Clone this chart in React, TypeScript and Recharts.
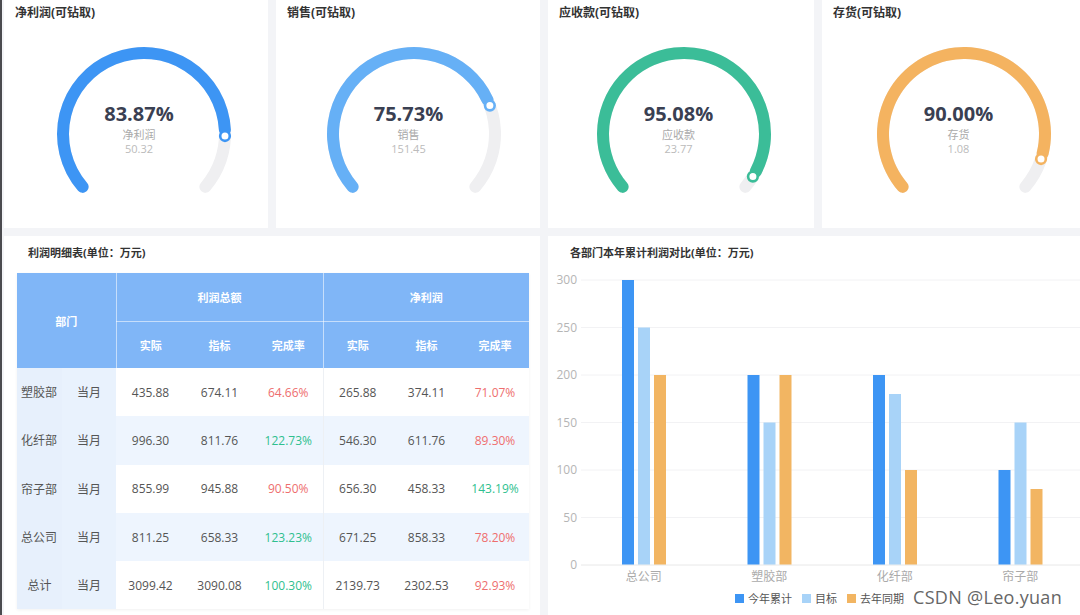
import React from 'react';
import { PieChart, Pie, Cell, BarChart, Bar, XAxis, YAxis, CartesianGrid, Legend } from 'recharts';

// ---------- data ----------
const gaugeTitles = ['净利润(可钻取)', '销售(可钻取)', '应收款(可钻取)', '存货(可钻取)'];
const gaugeNames = ['净利润', '销售', '应收款', '存货'];
const gaugeRates = [83.87, 75.73, 95.08, 90.0];
const gaugeAmounts = ['50.32', '151.45', '23.77', '1.08'];
const gaugeColors = ['#3d95f4', '#66b0f6', '#3bbd98', '#f4b360'];

const deptNames = ['塑胶部', '化纤部', '帘子部', '总公司', '总计'];
const periodLabel = '当月';
const profitActual = ['435.88', '996.30', '855.99', '811.25', '3099.42'];
const profitTarget = ['674.11', '811.76', '945.88', '658.33', '3090.08'];
const profitRate = ['64.66%', '122.73%', '90.50%', '123.23%', '100.30%'];
const netActual = ['265.88', '546.30', '656.30', '671.25', '2139.73'];
const netTarget = ['374.11', '611.76', '458.33', '858.33', '2302.53'];
const netRate = ['71.07%', '89.30%', '143.19%', '78.20%', '92.93%'];

const barCategories = ['总公司', '塑胶部', '化纤部', '帘子部'];
const barThisYear = [300, 200, 200, 100];
const barTarget = [250, 150, 180, 150];
const barLastYear = [200, 200, 100, 80];
const yTicks = [0, 50, 100, 150, 200, 250, 300];
const seriesKeys = ['thisYear', 'target', 'lastYear'];
const seriesNames = ['今年累计', '目标', '去年同期'];
const seriesColors = ['#3d95f4', '#a8d3f8', '#f2b562'];

const FONT = '"Open Sans", "Noto Sans CJK SC", sans-serif';
const RAD = Math.PI / 180;

const barData = barCategories.map((name, i) => ({
  name,
  thisYear: barThisYear[i],
  target: barTarget[i],
  lastYear: barLastYear[i],
}));

const renderDot = (color: string) => (props: any) => {
  if (props.index !== 0) return null;
  const { cx, cy, innerRadius, outerRadius, endAngle } = props;
  const r = (innerRadius + outerRadius) / 2;
  const x = cx + r * Math.cos(-endAngle * RAD);
  const y = cy + r * Math.sin(-endAngle * RAD);
  return <circle cx={x} cy={y} r={4.8} fill="#fff" stroke={color} strokeWidth={2.6} />;
};

const gaugeCenters = [139, 408.5, 678.5, 958.5];
const panelRects = [
  { left: 4, width: 264 },
  { left: 276, width: 264 },
  { left: 548, width: 266 },
  { left: 822, width: 258 },
];

function Gauge({ i }: { i: number }) {
  const cx = gaugeCenters[i];
  const cy = 129;
  const color = gaugeColors[i];
  const data = [
    { name: gaugeNames[i], value: gaugeRates[i] },
    { name: 'rest', value: 100 - gaugeRates[i] },
  ];
  const p = panelRects[i];
  return (
    <>
      <div style={{ position: 'absolute', left: p.left, top: 0, width: p.width, height: 228, background: '#fff' }} />
      <div style={{ position: 'absolute', left: p.left + 11, top: 3, fontSize: 12, fontWeight: 700, color: '#333', fontFamily: FONT }}>
        {gaugeTitles[i]}
      </div>
      <div style={{ position: 'absolute', left: cx - 100, top: cy - 100 }}>
        <PieChart width={200} height={200}>
          <Pie
            data={[{ value: 100 }]}
            dataKey="value"
            cx={100}
            cy={100}
            innerRadius={75}
            outerRadius={87}
            startAngle={225}
            endAngle={-45}
            cornerRadius={6}
            stroke="none"
            fill="#efeff1"
            isAnimationActive={false}
          />
          <Pie
            data={data}
            dataKey="value"
            cx={100}
            cy={100}
            innerRadius={75}
            outerRadius={87}
            startAngle={225}
            endAngle={-45}
            cornerRadius={6}
            stroke="none"
            isAnimationActive={false}
            label={renderDot(color)}
            labelLine={false}
          >
            <Cell fill={color} />
            <Cell fill="transparent" />
          </Pie>
        </PieChart>
      </div>
      <div style={{ position: 'absolute', left: cx - 80, width: 160, top: 100, textAlign: 'center', fontFamily: FONT, fontSize: 20, fontWeight: 700, color: '#3a4052', lineHeight: '28px' }}>
        {gaugeRates[i].toFixed(2)}%
      </div>
      <div style={{ position: 'absolute', left: cx - 80, width: 160, top: 127, textAlign: 'center', fontFamily: FONT, fontSize: 11, color: '#aaa', lineHeight: '16px' }}>
        {gaugeNames[i]}
      </div>
      <div style={{ position: 'absolute', left: cx - 80, width: 160, top: 141, textAlign: 'center', fontFamily: FONT, fontSize: 11, color: '#bbb', lineHeight: '16px' }}>
        {gaugeAmounts[i]}
      </div>
    </>
  );
}

const rateColor = (s: string) => (parseFloat(s) >= 100 ? '#2fbf8f' : '#ee6e6e');

function ProfitTable() {
  const hdr: React.CSSProperties = { color: '#fff', fontWeight: 700, fontSize: 11, textAlign: 'center', padding: 0 };
  const cell: React.CSSProperties = { fontSize: 12, color: '#555', textAlign: 'center', padding: 0 };
  const line = '1px solid rgba(255,255,255,0.55)';
  return (
    <table
      style={{
        position: 'absolute', left: 17, top: 273, width: 512, borderCollapse: 'collapse', tableLayout: 'fixed',
        fontFamily: FONT, boxShadow: '0 1px 3px rgba(0,0,0,0.06)',
      }}
    >
      <colgroup>
        <col style={{ width: 45 }} />
        <col style={{ width: 54 }} />
        <col style={{ width: 69 }} />
        <col style={{ width: 69 }} />
        <col style={{ width: 69 }} />
        <col style={{ width: 69 }} />
        <col style={{ width: 69 }} />
        <col style={{ width: 68 }} />
      </colgroup>
      <thead>
        <tr style={{ height: 48, background: '#80b6f7' }}>
          <th colSpan={2} rowSpan={2} style={{ ...hdr, borderRight: line }}>部门</th>
          <th colSpan={3} style={{ ...hdr, borderRight: line, borderBottom: line }}>利润总额</th>
          <th colSpan={3} style={{ ...hdr, borderBottom: line }}>净利润</th>
        </tr>
        <tr style={{ height: 47, background: '#80b6f7' }}>
          <th style={hdr}>实际</th>
          <th style={hdr}>指标</th>
          <th style={{ ...hdr, borderRight: line }}>完成率</th>
          <th style={hdr}>实际</th>
          <th style={hdr}>指标</th>
          <th style={hdr}>完成率</th>
        </tr>
      </thead>
      <tbody>
        {deptNames.map((d, r) => {
          const bg = r % 2 === 1 ? '#eef5fe' : '#ffffff';
          return (
            <tr key={d} style={{ height: 48.3, background: bg }}>
              <td style={{ ...cell, background: '#e7f0fc', textAlign: r === 4 ? 'center' : 'left', paddingLeft: r === 4 ? 0 : 4 }}>{d}</td>
              <td style={{ ...cell, background: '#e9f2fd' }}>{periodLabel}</td>
              <td style={cell}>{profitActual[r]}</td>
              <td style={cell}>{profitTarget[r]}</td>
              <td style={{ ...cell, color: rateColor(profitRate[r]), borderRight: '1px solid #edf0f4' }}>{profitRate[r]}</td>
              <td style={cell}>{netActual[r]}</td>
              <td style={cell}>{netTarget[r]}</td>
              <td style={{ ...cell, color: rateColor(netRate[r]) }}>{netRate[r]}</td>
            </tr>
          );
        })}
      </tbody>
    </table>
  );
}

const renderLegend = () => (
  <div style={{ display: 'flex', justifyContent: 'center', alignItems: 'center', fontSize: 11, fontFamily: FONT, color: '#555', paddingLeft: 0, paddingTop: 3 }}>
    {seriesNames.map((n, i) => (
      <span key={n} style={{ display: 'inline-flex', alignItems: 'center', marginRight: i === 2 ? 0 : 10 }}>
        <span style={{ display: 'inline-block', width: 9, height: 9, background: seriesColors[i], marginRight: 4 }} />
        {n}
      </span>
    ))}
  </div>
);

export default function App() {
  return (
    <div style={{ position: 'absolute', left: 0, top: 0, width: 1080, height: 615, background: '#f3f4f7', overflow: 'hidden', fontFamily: FONT }}>
      <div style={{ position: 'absolute', left: 0, top: 0, width: 2, height: 615, background: '#4b4b4f' }} />
      {[0, 1, 2, 3].map((i) => (
        <Gauge key={i} i={i} />
      ))}

      {/* bottom-left panel */}
      <div style={{ position: 'absolute', left: 4, top: 236, width: 536, height: 379, background: '#fff' }} />
      <div style={{ position: 'absolute', left: 28, top: 244, fontSize: 11, fontWeight: 700, color: '#333' }}>利润明细表(单位：万元)</div>
      <ProfitTable />

      {/* bottom-right panel */}
      <div style={{ position: 'absolute', left: 548, top: 236, width: 532, height: 379, background: '#fff', overflow: 'hidden' }}>
        <div style={{ position: 'absolute', left: 22, top: 8, fontSize: 11, fontWeight: 700, color: '#333' }}>各部门本年累计利润对比(单位：万元)</div>
        <div style={{ position: 'absolute', left: 0, top: 0 }}>
          <BarChart width={540} height={379} data={barData} margin={{ top: 44, right: 5, left: 8, bottom: 0 }} barSize={12} barGap={4}>
            <CartesianGrid vertical={false} stroke="#f2f2f4" />
            <XAxis
              dataKey="name"
              axisLine={{ stroke: '#eeeeee' }}
              tickLine={false}
              tick={{ fill: '#aaaaaa', fontSize: 12 }}
              tickMargin={1}
              height={22}
            />
            <YAxis
              ticks={yTicks}
              domain={[0, 300]}
              axisLine={false}
              tickLine={false}
              tick={{ fill: '#b5b5b5', fontSize: 12 }}
              width={25}
              tickSize={0}
              tickMargin={4}
            />
            <Legend verticalAlign="bottom" height={28} content={renderLegend} />
            {seriesKeys.map((k, i) => (
              <Bar key={k} dataKey={k} name={seriesNames[i]} fill={seriesColors[i]} isAnimationActive={false} />
            ))}
          </BarChart>
        </div>
      </div>
      <div style={{ position: 'absolute', left: 913, top: 586, fontSize: 18, lineHeight: '22px', color: '#666', fontFamily: '"Open Sans", sans-serif', letterSpacing: 0.3 }}>
        CSDN @Leo.yuan
      </div>
    </div>
  );
}
